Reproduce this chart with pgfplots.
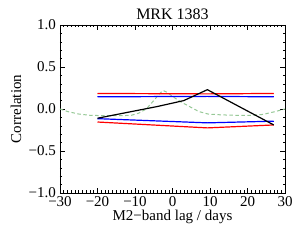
\documentclass[border=0pt]{standalone}
\usepackage{pgfplots}
\pgfplotsset{compat=1.18}
\usepackage{fontspec}
\setmainfont{Liberation Serif}
\definecolor{dgreen}{RGB}{150,200,150}
\begin{document}
\fontsize{15}{17}\selectfont
\begin{tikzpicture}
\begin{axis}[
  at={(0,0)}, anchor=south west,
  scale only axis, width=225pt, height=168pt,
  xmin=-30, xmax=30, ymin=-1, ymax=1,
  xtick={-30,-20,...,30}, ytick={-1,-0.5,0,0.5,1},
  xticklabels={−30,−20,−10,0,10,20,30},
  yticklabels={−1.0,−0.5,0.0,0.5,1.0},
  minor x tick num=9, minor y tick num=4,
  tick align=inside, tick pos=both,
  major tick length=5pt, minor tick length=2.5pt,
  every tick/.style={black, line width=0.5pt},
  axis line style={line width=0.6pt},
  xticklabel style={font=\fontsize{15}{17}\selectfont, yshift=2pt},
  yticklabel style={font=\fontsize{15}{17}\selectfont, xshift=1pt},
  xlabel={M2−band lag / days}, ylabel={Correlation},
  xlabel style={font=\fontsize{15}{17}\selectfont, yshift=6pt},
  ylabel style={font=\fontsize{15}{17}\selectfont, yshift=-3pt},
  title={MRK 1383}, title style={font=\fontsize{16}{18}\selectfont, yshift=-6pt},
  clip=false,
]
\addplot[dgreen, line width=1pt, dash pattern=on 3.5pt off 2.5pt] coordinates {
(-30,0.0) (-28,-0.03) (-25,-0.06) (-22,-0.075) (-18,-0.08) (-14,-0.08) (-11,-0.075) (-9,-0.05) (-7,0.0) (-5,0.1) (-3.5,0.18) (-2.5,0.22) (-1.5,0.2) (0,0.15) (2,0.09) (4.5,0.03) (7,-0.03) (9.5,-0.06) (13,-0.07) (17,-0.075) (21,-0.075) (24,-0.065) (27,-0.035) (30,0.0)};
\addplot[red, line width=1.2pt] coordinates {(-20,0.185) (9.3,0.18) (27,0.185)};
\addplot[blue, line width=1.2pt] coordinates {(-20,0.145) (9.3,0.15) (27,0.145)};
\addplot[red, line width=1.2pt] coordinates {(-20,-0.155) (9.3,-0.225) (27,-0.19)};
\addplot[blue, line width=1.2pt] coordinates {(-20,-0.115) (9.3,-0.165) (27,-0.145)};
\addplot[black, line width=1.2pt] coordinates {(-20,-0.11) (-4,0.03) (3,0.1) (9.3,0.23) (27,-0.19)};
\end{axis}
\pgfresetboundingbox
\path (-60pt,-47pt) rectangle (240pt,193pt);
\end{tikzpicture}
\end{document}
